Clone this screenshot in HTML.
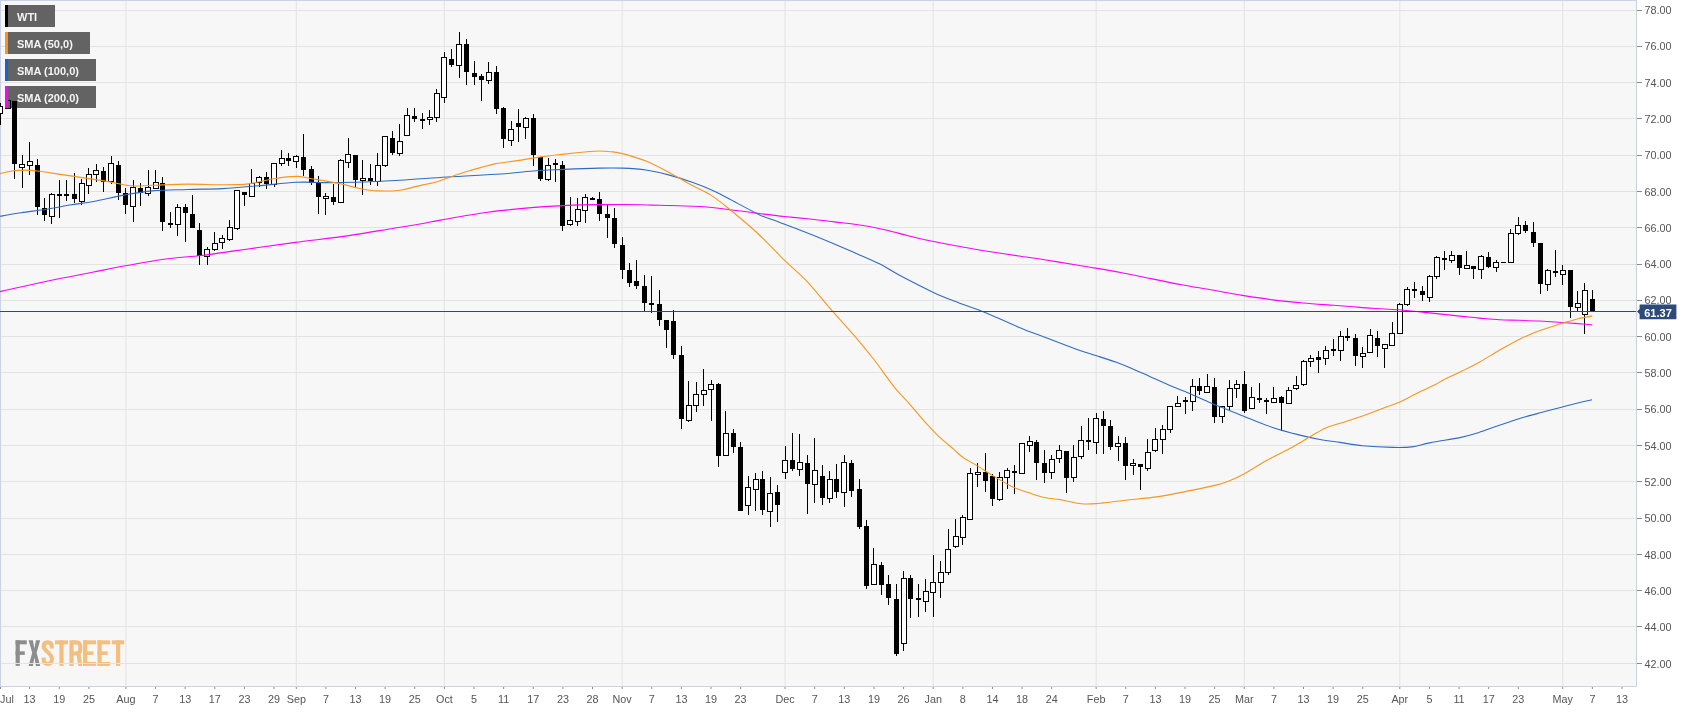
<!DOCTYPE html><html><head><meta charset="utf-8"><style>html,body{margin:0;padding:0;background:#fff;width:1707px;height:712px;overflow:hidden}svg{display:block;will-change:transform}text{font-family:"Liberation Sans",sans-serif}</style></head><body><svg width="1707" height="712" viewBox="0 0 1707 712"><rect x="0" y="0" width="1707" height="712" fill="#ffffff"/><rect x="0" y="0" width="1636" height="686" fill="#f7f7f7"/><g fill="#8d8d8d"><rect x="15.6" y="640.3" width="4.2" height="25.6"/><rect x="15.6" y="640.3" width="11.2" height="4"/><rect x="15.6" y="651.3" width="9.2" height="3.6"/><path d="M28.6,640.3H32.9L34.4,648.5L35.9,640.3H40.2L36.6,652.8L40.2,665.9H35.9L34.4,657.2L32.9,665.9H28.6L32.2,652.8Z"/></g><g fill="#f2bf80"><rect x="55" y="640.3" width="13" height="4"/><rect x="59.4" y="640.3" width="4.2" height="25.6"/><rect x="69.4" y="640.3" width="4.2" height="25.6"/><path d="M76.4,653.5H80.5L82.4,665.9H78.2Z"/><rect x="83.1" y="640.3" width="4.2" height="25.6"/><rect x="83.1" y="640.3" width="13" height="4"/><rect x="83.1" y="651.4" width="10.4" height="3.6"/><rect x="83.1" y="661.9" width="13" height="4"/><rect x="97.5" y="640.3" width="4.2" height="25.6"/><rect x="97.5" y="640.3" width="12.7" height="4"/><rect x="97.5" y="651.4" width="10.2" height="3.6"/><rect x="97.5" y="661.9" width="12.7" height="4"/><rect x="111.9" y="640.3" width="12.3" height="4"/><rect x="116" y="640.3" width="4.2" height="25.6"/></g><g fill="none" stroke="#f2bf80" stroke-width="4.1"><path d="M51.8,648.5V646.6C51.8,643.6 50.5,642.35 47.75,642.35C45,642.35 43.65,643.6 43.65,646.6C43.65,651 51.85,652.8 51.85,658.6V659.6C51.85,662.6 50.5,663.85 47.75,663.85C45,663.85 43.65,662.6 43.65,659.6V657.5"/><path d="M71.5,642.35H76.3C79,642.35 80.3,643.6 80.3,646.6V649.3C80.3,652.3 79,653.5 76.3,653.5H71.5"/></g><path d="M0,10.50H1636 M0,46.50H1636 M0,82.50H1636 M0,118.50H1636 M0,155.50H1636 M0,191.50H1636 M0,227.50H1636 M0,264.50H1636 M0,300.50H1636 M0,336.50H1636 M0,372.50H1636 M0,409.50H1636 M0,445.50H1636 M0,481.50H1636 M0,518.50H1636 M0,554.50H1636 M0,590.50H1636 M0,626.50H1636 M0,663.50H1636 M125.92,0V686 M296.27,0V686 M444.39,0V686 M622.14,0V686 M785.08,0V686 M933.20,0V686 M1096.14,0V686 M1244.26,0V686 M1399.79,0V686 M1562.73,0V686" stroke="#e3e3e3" stroke-width="1" fill="none"/><rect x="5" y="5" width="50" height="22" fill="#636363"/><text x="17" y="20.5" font-size="11" font-weight="bold" fill="#f4f4f4">WTI</text><rect x="5" y="32" width="85" height="22" fill="#636363"/><text x="17" y="47.5" font-size="11" font-weight="bold" fill="#f4f4f4">SMA (50,0)</text><rect x="5" y="59" width="91" height="22" fill="#636363"/><text x="17" y="74.5" font-size="11" font-weight="bold" fill="#f4f4f4">SMA (100,0)</text><rect x="5" y="86" width="91" height="22" fill="#636363"/><text x="17" y="101.5" font-size="11" font-weight="bold" fill="#f4f4f4">SMA (200,0)</text><path d="M0.5,0V686.5M0,0.5H1636.5M1636.5,0V686.5M0,686.5H1636.5" stroke="#cbd2e6" stroke-width="1" fill="none"/><path d="M0.5,103V125 M7.5,99V109 M14.5,101V179 M22.5,155V188 M29.5,142V175 M37.5,159V215 M44.5,198V221 M51.5,193V224 M59.5,180V218 M66.5,180V201 M74.5,173V203 M81.5,179V205 M88.5,168V194 M96.5,164V182 M103.5,167V192 M111.5,156V184 M118.5,161V200 M125.5,188V214 M133.5,180V222 M140.5,183V206 M148.5,170V196 M155.5,170V189 M162.5,177V231 M170.5,212V228 M177.5,204V236 M185.5,204V242 M192.5,195V228 M199.5,223V265 M207.5,247V265 M214.5,232V251 M222.5,235V249 M229.5,220V241 M237.5,190V230 M244.5,192V206 M251.5,169V197 M259.5,176V187 M266.5,172V189 M274.5,163V187 M281.5,150V166 M288.5,153V166 M296.5,155V168 M303.5,134V176 M311.5,166V185 M318.5,176V214 M325.5,193V215 M333.5,184V205 M340.5,159V203 M348.5,138V168 M355.5,155V188 M362.5,160V195 M370.5,164V185 M377.5,153V186 M385.5,136V167 M392.5,131V155 M399.5,124V156 M407.5,108V135 M414.5,108V122 M422.5,113V129 M429.5,110V125 M436.5,89V122 M444.5,52V103 M451.5,49V67 M459.5,32V78 M466.5,39V85 M474.5,61V85 M481.5,74V101 M488.5,62V84 M496.5,66V114 M503.5,107V148 M511.5,121V146 M518.5,109V142 M525.5,117V139 M533.5,114V166 M540.5,157V181 M548.5,158V181 M555.5,159V182 M562.5,161V231 M570.5,197V226 M577.5,198V226 M585.5,194V223 M592.5,197V200 M599.5,192V221 M607.5,204V238 M614.5,208V248 M622.5,237V279 M629.5,263V287 M636.5,260V289 M644.5,275V311 M651.5,276V313 M659.5,290V326 M666.5,320V348 M673.5,310V359 M681.5,346V429 M688.5,381V422 M696.5,382V412 M703.5,369V406 M711.5,380V421 M718.5,383V467 M725.5,411V455 M733.5,429V453 M740.5,442V511 M748.5,476V515 M755.5,473V511 M762.5,471V515 M770.5,477V527 M777.5,485V522 M785.5,446V479 M792.5,433V471 M799.5,434V476 M807.5,455V514 M814.5,438V503 M822.5,465V505 M829.5,471V503 M836.5,464V498 M844.5,455V507 M851.5,460V497 M859.5,479V529 M866.5,520V589 M873.5,548V584 M881.5,562V595 M888.5,575V605 M896.5,584V656 M903.5,571V651 M910.5,575V618 M918.5,584V617 M925.5,579V612 M933.5,555V617 M940.5,561V598 M948.5,529V575 M955.5,519V548 M962.5,515V545 M970.5,468V519 M977.5,463V487 M985.5,453V492 M992.5,474V506 M999.5,472V501 M1007.5,468V489 M1014.5,465V494 M1022.5,443V474 M1029.5,436V452 M1036.5,440V480 M1044.5,450V483 M1051.5,455V479 M1059.5,445V463 M1066.5,451V493 M1073.5,445V482 M1081.5,426V459 M1088.5,418V450 M1096.5,413V454 M1103.5,411V454 M1110.5,420V450 M1118.5,436V461 M1125.5,437V480 M1133.5,459V475 M1140.5,464V490 M1147.5,439V471 M1155.5,428V452 M1162.5,425V454 M1170.5,406V433 M1177.5,396V407 M1185.5,397V414 M1192.5,379V411 M1199.5,378V395 M1207.5,374V393 M1214.5,378V423 M1222.5,406V423 M1229.5,380V410 M1236.5,380V398 M1244.5,371V413 M1251.5,387V408 M1259.5,383V403 M1266.5,398V414 M1273.5,387V403 M1281.5,396V431 M1288.5,387V403 M1296.5,376V390 M1303.5,360V386 M1310.5,355V367 M1318.5,351V373 M1325.5,346V365 M1333.5,339V356 M1340.5,331V361 M1347.5,328V341 M1355.5,334V366 M1362.5,347V368 M1370.5,329V353 M1377.5,331V357 M1384.5,344V368 M1392.5,322V345 M1399.5,303V333 M1407.5,287V306 M1414.5,282V298 M1422.5,286V301 M1429.5,275V302 M1436.5,256V279 M1444.5,251V270 M1451.5,251V263 M1459.5,255V275 M1466.5,251V269 M1473.5,266V279 M1481.5,255V279 M1488.5,252V268 M1496.5,260V272 M1510.5,229V262 M1518.5,217V235 M1525.5,221V233 M1533.5,222V247 M1540.5,243V294 M1547.5,269V291 M1555.5,250V277 M1562.5,265V285 M1570.5,270V318 M1577.5,291V312 M1584.5,283V334 M1592.5,290V312" stroke="#000" stroke-width="1" fill="none"/><g fill="#000"><rect x="12" y="101" width="5" height="63"/><rect x="35" y="165" width="5" height="42"/><rect x="42" y="208" width="5" height="7"/><rect x="57" y="194" width="5" height="2"/><rect x="64" y="194" width="5" height="2"/><rect x="72" y="194" width="5" height="5"/><rect x="101" y="171" width="5" height="11"/><rect x="116" y="165" width="5" height="28"/><rect x="123" y="193" width="5" height="12"/><rect x="138" y="188" width="5" height="5"/><rect x="160" y="183" width="5" height="39"/><rect x="168" y="223" width="5" height="2"/><rect x="183" y="207" width="5" height="6"/><rect x="190" y="214" width="5" height="14"/><rect x="197" y="230" width="5" height="26"/><rect x="242" y="192" width="5" height="3"/><rect x="264" y="177" width="5" height="7"/><rect x="286" y="158" width="5" height="3"/><rect x="301" y="157" width="5" height="13"/><rect x="309" y="169" width="5" height="14"/><rect x="316" y="183" width="5" height="14"/><rect x="331" y="197" width="5" height="5"/><rect x="353" y="155" width="5" height="25"/><rect x="368" y="178" width="5" height="3"/><rect x="390" y="138" width="5" height="15"/><rect x="412" y="116" width="5" height="3"/><rect x="420" y="119" width="5" height="2"/><rect x="449" y="59" width="5" height="6"/><rect x="464" y="44" width="5" height="28"/><rect x="472" y="73" width="5" height="4"/><rect x="479" y="76" width="5" height="4"/><rect x="494" y="72" width="5" height="37"/><rect x="501" y="108" width="5" height="31"/><rect x="516" y="123" width="5" height="4"/><rect x="531" y="118" width="5" height="37"/><rect x="538" y="157" width="5" height="22"/><rect x="553" y="163" width="5" height="2"/><rect x="560" y="165" width="5" height="61"/><rect x="590" y="198" width="5" height="2"/><rect x="597" y="199" width="5" height="15"/><rect x="605" y="214" width="5" height="4"/><rect x="612" y="218" width="5" height="26"/><rect x="620" y="245" width="5" height="25"/><rect x="627" y="270" width="5" height="13"/><rect x="634" y="281" width="5" height="5"/><rect x="642" y="286" width="5" height="17"/><rect x="649" y="303" width="5" height="2"/><rect x="657" y="304" width="5" height="16"/><rect x="664" y="320" width="5" height="10"/><rect x="671" y="321" width="5" height="34"/><rect x="679" y="355" width="5" height="64"/><rect x="716" y="384" width="5" height="72"/><rect x="731" y="433" width="5" height="14"/><rect x="738" y="447" width="5" height="64"/><rect x="760" y="479" width="5" height="31"/><rect x="775" y="492" width="5" height="13"/><rect x="790" y="460" width="5" height="9"/><rect x="805" y="463" width="5" height="21"/><rect x="820" y="476" width="5" height="22"/><rect x="834" y="479" width="5" height="13"/><rect x="849" y="463" width="5" height="28"/><rect x="857" y="489" width="5" height="38"/><rect x="864" y="526" width="5" height="60"/><rect x="879" y="565" width="5" height="20"/><rect x="886" y="584" width="5" height="14"/><rect x="894" y="599" width="5" height="55"/><rect x="908" y="578" width="5" height="21"/><rect x="916" y="598" width="5" height="2"/><rect x="983" y="472" width="5" height="9"/><rect x="990" y="476" width="5" height="23"/><rect x="1012" y="471" width="5" height="2"/><rect x="1034" y="442" width="5" height="21"/><rect x="1042" y="463" width="5" height="10"/><rect x="1064" y="451" width="5" height="27"/><rect x="1086" y="440" width="5" height="2"/><rect x="1101" y="419" width="5" height="7"/><rect x="1108" y="426" width="5" height="21"/><rect x="1123" y="443" width="5" height="23"/><rect x="1138" y="464" width="5" height="3"/><rect x="1183" y="400" width="5" height="2"/><rect x="1197" y="386" width="5" height="5"/><rect x="1212" y="387" width="5" height="30"/><rect x="1242" y="384" width="5" height="27"/><rect x="1257" y="398" width="5" height="2"/><rect x="1264" y="400" width="5" height="2"/><rect x="1279" y="397" width="5" height="6"/><rect x="1316" y="357" width="5" height="3"/><rect x="1331" y="349" width="5" height="2"/><rect x="1345" y="336" width="5" height="2"/><rect x="1353" y="338" width="5" height="18"/><rect x="1375" y="338" width="5" height="8"/><rect x="1412" y="289" width="5" height="2"/><rect x="1420" y="291" width="5" height="4"/><rect x="1442" y="258" width="5" height="2"/><rect x="1457" y="255" width="5" height="13"/><rect x="1471" y="266" width="5" height="3"/><rect x="1486" y="257" width="5" height="10"/><rect x="1501" y="262" width="5" height="1"/><rect x="1523" y="225" width="5" height="6"/><rect x="1531" y="232" width="5" height="11"/><rect x="1538" y="243" width="5" height="41"/><rect x="1553" y="271" width="5" height="2"/><rect x="1568" y="270" width="5" height="37"/><rect x="1590" y="299" width="5" height="12"/></g><g fill="#fff" stroke="#000" stroke-width="1"><rect x="-2.5" y="106.5" width="5" height="7"/><rect fill="none" x="5.5" y="100.5" width="5" height="8"/><rect x="19.5" y="164.5" width="5" height="3"/><rect x="27.5" y="161.5" width="5" height="4"/><rect x="49.5" y="194.5" width="5" height="22"/><rect x="79.5" y="183.5" width="5" height="18"/><rect x="86.5" y="174.5" width="5" height="11"/><rect x="93.5" y="170.5" width="5" height="4"/><rect x="108.5" y="163.5" width="5" height="18"/><rect x="130.5" y="187.5" width="5" height="19"/><rect x="145.5" y="187.5" width="5" height="6"/><rect x="153.5" y="182.5" width="5" height="6"/><rect x="175.5" y="207.5" width="5" height="17"/><rect x="204.5" y="249.5" width="5" height="7"/><rect x="212.5" y="243.5" width="5" height="6"/><rect x="219.5" y="238.5" width="5" height="4"/><rect x="227.5" y="227.5" width="5" height="12"/><rect x="234.5" y="190.5" width="5" height="38"/><rect x="249.5" y="183.5" width="5" height="13"/><rect x="256.5" y="177.5" width="5" height="5"/><rect x="271.5" y="163.5" width="5" height="21"/><rect x="279.5" y="158.5" width="5" height="5"/><rect x="293.5" y="156.5" width="5" height="5"/><rect x="323.5" y="196.5" width="5" height="2"/><rect x="338.5" y="160.5" width="5" height="42"/><rect x="345.5" y="154.5" width="5" height="8"/><rect x="360.5" y="178.5" width="5" height="2"/><rect x="375.5" y="165.5" width="5" height="16"/><rect x="382.5" y="136.5" width="5" height="29"/><rect x="397.5" y="141.5" width="5" height="12"/><rect x="404.5" y="115.5" width="5" height="20"/><rect x="427.5" y="117.5" width="5" height="2"/><rect x="434.5" y="93.5" width="5" height="24"/><rect x="441.5" y="57.5" width="5" height="40"/><rect x="456.5" y="44.5" width="5" height="21"/><rect x="486.5" y="72.5" width="5" height="8"/><rect x="508.5" y="129.5" width="5" height="11"/><rect x="523.5" y="118.5" width="5" height="9"/><rect x="545.5" y="165.5" width="5" height="14"/><rect x="567.5" y="220.5" width="5" height="4"/><rect x="575.5" y="209.5" width="5" height="12"/><rect x="582.5" y="197.5" width="5" height="13"/><rect x="686.5" y="405.5" width="5" height="15"/><rect x="693.5" y="394.5" width="5" height="11"/><rect x="701.5" y="390.5" width="5" height="4"/><rect x="708.5" y="384.5" width="5" height="5"/><rect x="723.5" y="433.5" width="5" height="22"/><rect x="745.5" y="487.5" width="5" height="18"/><rect x="753.5" y="479.5" width="5" height="10"/><rect x="767.5" y="493.5" width="5" height="18"/><rect x="782.5" y="460.5" width="5" height="12"/><rect x="797.5" y="462.5" width="5" height="7"/><rect x="812.5" y="470.5" width="5" height="14"/><rect x="827.5" y="479.5" width="5" height="19"/><rect x="841.5" y="462.5" width="5" height="30"/><rect x="871.5" y="564.5" width="5" height="20"/><rect x="901.5" y="578.5" width="5" height="65"/><rect x="923.5" y="591.5" width="5" height="10"/><rect x="930.5" y="582.5" width="5" height="10"/><rect x="938.5" y="572.5" width="5" height="10"/><rect x="945.5" y="549.5" width="5" height="23"/><rect x="953.5" y="536.5" width="5" height="10"/><rect x="960.5" y="517.5" width="5" height="20"/><rect x="967.5" y="473.5" width="5" height="46"/><rect x="975.5" y="472.5" width="5" height="2"/><rect x="997.5" y="477.5" width="5" height="22"/><rect x="1004.5" y="470.5" width="5" height="7"/><rect x="1019.5" y="443.5" width="5" height="30"/><rect x="1027.5" y="441.5" width="5" height="4"/><rect x="1049.5" y="459.5" width="5" height="13"/><rect x="1056.5" y="450.5" width="5" height="8"/><rect x="1071.5" y="457.5" width="5" height="20"/><rect x="1078.5" y="440.5" width="5" height="16"/><rect x="1093.5" y="418.5" width="5" height="24"/><rect x="1115.5" y="443.5" width="5" height="3"/><rect x="1130.5" y="463.5" width="5" height="2"/><rect x="1145.5" y="452.5" width="5" height="16"/><rect x="1152.5" y="439.5" width="5" height="11"/><rect x="1160.5" y="429.5" width="5" height="10"/><rect x="1167.5" y="406.5" width="5" height="23"/><rect x="1175.5" y="403.5" width="5" height="3"/><rect x="1190.5" y="386.5" width="5" height="15"/><rect x="1204.5" y="386.5" width="5" height="6"/><rect x="1219.5" y="406.5" width="5" height="10"/><rect x="1227.5" y="388.5" width="5" height="18"/><rect x="1234.5" y="384.5" width="5" height="4"/><rect x="1249.5" y="397.5" width="5" height="11"/><rect x="1271.5" y="398.5" width="5" height="4"/><rect x="1286.5" y="390.5" width="5" height="13"/><rect x="1293.5" y="385.5" width="5" height="3"/><rect x="1301.5" y="361.5" width="5" height="23"/><rect x="1308.5" y="358.5" width="5" height="3"/><rect x="1323.5" y="350.5" width="5" height="8"/><rect x="1338.5" y="336.5" width="5" height="14"/><rect x="1360.5" y="353.5" width="5" height="3"/><rect x="1367.5" y="335.5" width="5" height="17"/><rect x="1382.5" y="344.5" width="5" height="4"/><rect x="1389.5" y="333.5" width="5" height="12"/><rect x="1397.5" y="304.5" width="5" height="29"/><rect x="1404.5" y="289.5" width="5" height="15"/><rect x="1427.5" y="276.5" width="5" height="21"/><rect x="1434.5" y="257.5" width="5" height="19"/><rect x="1449.5" y="255.5" width="5" height="5"/><rect x="1464.5" y="265.5" width="5" height="3"/><rect x="1478.5" y="256.5" width="5" height="13"/><rect x="1493.5" y="262.5" width="5" height="5"/><rect x="1508.5" y="233.5" width="5" height="29"/><rect x="1515.5" y="225.5" width="5" height="8"/><rect x="1545.5" y="270.5" width="5" height="14"/><rect x="1560.5" y="270.5" width="5" height="4"/><rect x="1575.5" y="303.5" width="5" height="4"/><rect x="1582.5" y="290.5" width="5" height="24"/></g><path d="M0.0,291.6 C7.8,289.9 31.3,284.5 46.9,281.2 C62.5,277.9 80.6,274.6 93.7,272.0 C106.8,269.4 113.8,267.9 125.5,265.8 C137.2,263.7 151.3,260.9 164.0,259.2 C176.7,257.5 190.1,256.9 201.8,255.5 C213.5,254.1 224.6,252.3 234.3,250.9 C244.0,249.5 249.8,248.7 260.0,247.3 C270.2,245.9 280.6,244.4 295.4,242.4 C310.2,240.4 332.6,238.0 349.0,235.6 C365.4,233.2 381.9,230.1 393.7,228.2 C405.5,226.3 412.2,225.3 420.0,224.0 C427.8,222.7 429.4,222.1 440.6,220.1 C451.9,218.1 471.9,214.3 487.5,212.2 C503.1,210.1 522.6,208.4 534.3,207.4 C546.0,206.4 550.0,206.3 557.8,205.9 C565.6,205.5 570.4,205.1 581.2,204.9 C592.0,204.7 610.7,204.5 622.4,204.5 C634.1,204.5 638.6,204.8 651.5,205.1 C664.4,205.4 687.2,205.8 700.0,206.5 C712.8,207.2 718.7,208.4 728.1,209.5 C737.5,210.6 746.8,211.9 756.2,213.1 C765.6,214.3 774.9,215.5 784.3,216.5 C793.7,217.5 803.7,218.4 812.4,219.3 C821.1,220.2 829.7,221.3 836.4,222.1 C843.1,222.9 847.3,223.3 852.8,224.0 C858.3,224.7 863.7,225.5 869.2,226.5 C874.7,227.5 880.1,228.7 885.6,230.0 C891.1,231.3 896.5,232.7 902.0,234.1 C907.5,235.5 913.1,237.0 918.4,238.2 C923.7,239.4 926.2,240.0 933.6,241.5 C941.0,243.0 953.0,245.3 962.5,247.0 C972.0,248.7 981.2,250.2 990.6,251.7 C1000.0,253.2 1009.2,254.6 1018.7,256.0 C1028.2,257.4 1038.1,258.7 1047.5,260.2 C1056.9,261.7 1067.9,263.6 1075.0,264.8 C1082.1,266.0 1082.4,265.9 1090.0,267.2 C1097.6,268.5 1110.3,270.6 1120.5,272.5 C1130.7,274.4 1140.8,276.6 1150.9,278.6 C1161.1,280.6 1171.2,282.8 1181.4,284.7 C1191.6,286.6 1201.8,288.2 1211.9,290.0 C1222.1,291.8 1232.2,293.8 1242.3,295.4 C1252.4,297.0 1262.6,298.6 1272.8,299.9 C1283.0,301.2 1293.0,302.1 1303.2,303.0 C1313.4,303.9 1325.9,304.7 1333.7,305.3 C1341.5,305.9 1343.5,306.0 1350.0,306.5 C1356.5,307.0 1364.6,307.8 1372.7,308.3 C1380.8,308.9 1389.7,309.1 1398.8,309.8 C1407.9,310.5 1416.9,311.6 1427.1,312.6 C1437.3,313.7 1451.2,315.2 1460.0,316.1 C1468.8,317.0 1473.2,317.5 1479.7,318.1 C1486.2,318.7 1492.8,319.4 1499.3,319.8 C1505.8,320.2 1512.4,320.1 1519.0,320.3 C1525.6,320.5 1532.2,320.7 1538.7,321.0 C1545.2,321.3 1551.8,321.9 1558.3,322.3 C1564.8,322.7 1572.3,323.2 1578.0,323.6 C1583.7,324.0 1589.8,324.7 1592.2,324.9" stroke="#ff00ff" stroke-width="1.1" fill="none"/><path d="M0.0,216.3 C3.5,215.7 13.3,214.0 21.1,212.8 C28.9,211.6 38.8,210.5 46.9,209.2 C55.0,207.9 62.2,206.3 70.0,205.0 C77.8,203.7 84.7,203.2 93.7,201.5 C102.7,199.8 114.4,196.9 124.2,195.1 C134.0,193.3 141.8,191.8 152.3,190.9 C162.9,190.0 175.8,189.9 187.5,189.5 C199.2,189.1 210.9,189.2 222.6,188.6 C234.3,188.0 245.5,186.9 257.8,185.8 C270.1,184.8 284.7,182.8 296.4,182.3 C308.1,181.8 317.0,182.7 328.1,182.6 C339.2,182.5 351.2,182.4 363.2,182.0 C375.2,181.6 386.1,181.1 400.0,180.3 C413.9,179.5 430.1,178.1 446.9,177.0 C463.7,175.9 486.0,175.0 500.8,174.0 C515.6,173.0 525.4,171.6 535.9,170.8 C546.4,170.0 553.5,169.9 564.0,169.4 C574.5,168.9 589.4,168.3 599.2,168.1 C609.0,167.9 614.8,167.8 622.6,168.1 C630.4,168.4 638.2,168.8 646.0,170.0 C653.8,171.2 661.7,173.0 669.5,175.1 C677.3,177.2 686.0,180.1 692.9,182.6 C699.8,185.1 705.1,187.2 711.0,189.8 C716.9,192.4 720.0,194.1 728.1,198.3 C736.2,202.5 751.2,210.9 759.7,214.9 C768.2,218.9 769.5,218.4 779.3,222.2 C789.1,226.0 805.6,232.2 818.7,237.5 C831.8,242.8 847.8,249.8 858.0,254.2 C868.2,258.6 873.0,260.6 880.0,264.1 C887.0,267.7 891.1,270.8 900.0,275.5 C908.9,280.2 923.6,287.8 933.4,292.4 C943.2,297.0 950.8,299.7 959.0,302.9 C967.2,306.1 972.8,307.5 982.6,311.5 C992.4,315.5 1007.2,322.4 1018.0,326.9 C1028.8,331.4 1037.7,334.5 1047.5,338.3 C1057.3,342.1 1068.8,346.6 1077.0,349.5 C1085.2,352.4 1090.2,353.7 1096.7,355.8 C1103.2,357.9 1110.8,360.3 1116.3,362.3 C1121.8,364.3 1124.4,365.3 1130.0,367.7 C1135.6,370.1 1143.2,373.6 1149.7,376.5 C1156.2,379.4 1162.8,382.4 1169.3,385.2 C1175.8,388.0 1182.5,390.4 1189.0,393.2 C1195.5,396.0 1202.0,399.1 1208.6,401.9 C1215.1,404.7 1221.4,407.2 1228.3,410.0 C1235.2,412.8 1242.5,415.9 1250.0,418.8 C1257.5,421.8 1265.3,425.1 1273.3,427.7 C1281.3,430.3 1290.1,432.6 1297.9,434.6 C1305.7,436.6 1313.0,438.2 1320.0,439.5 C1327.0,440.8 1332.9,441.4 1340.0,442.4 C1347.1,443.4 1353.7,444.9 1362.5,445.7 C1371.3,446.5 1384.6,447.2 1392.8,447.4 C1401.0,447.6 1405.7,447.6 1411.9,446.9 C1418.1,446.1 1421.9,444.4 1429.9,442.9 C1437.9,441.3 1452.2,439.2 1460.0,437.6 C1467.8,436.0 1470.9,435.0 1476.4,433.3 C1481.9,431.6 1487.3,429.4 1492.8,427.5 C1498.3,425.6 1503.7,423.8 1509.2,422.0 C1514.7,420.2 1520.1,418.4 1525.6,416.8 C1531.1,415.2 1536.5,413.8 1542.0,412.3 C1547.5,410.8 1552.9,409.4 1558.4,408.0 C1563.9,406.6 1569.2,405.1 1574.8,403.7 C1580.4,402.3 1589.2,400.4 1592.1,399.8" stroke="#2f6bc4" stroke-width="1.1" fill="none"/><path d="M0.0,173.6 C1.9,173.2 7.4,171.6 11.7,171.0 C16.0,170.4 21.5,170.1 25.8,170.1 C30.1,170.1 32.0,170.3 37.5,171.0 C43.0,171.7 51.2,173.0 58.6,174.1 C66.0,175.2 74.2,176.4 82.0,177.6 C89.8,178.8 97.2,179.7 105.4,181.1 C113.6,182.5 123.4,185.1 131.2,185.8 C139.0,186.5 142.9,185.6 152.3,185.3 C161.7,185.0 175.8,184.2 187.5,184.1 C199.2,184.0 212.4,184.8 222.6,184.8 C232.8,184.8 239.8,184.9 248.4,183.9 C257.0,182.9 266.2,179.9 274.2,178.7 C282.2,177.4 290.1,176.4 296.4,176.4 C302.6,176.4 304.5,177.5 311.7,178.7 C318.9,179.9 332.0,182.0 339.8,183.6 C347.6,185.2 352.4,187.1 358.6,188.3 C364.9,189.5 370.4,190.6 377.3,190.9 C384.2,191.2 393.3,191.0 400.0,190.2 C406.7,189.4 411.8,187.4 417.6,186.1 C423.5,184.8 430.2,183.5 435.1,182.2 C440.0,180.9 441.0,180.1 446.9,178.2 C452.8,176.2 462.5,172.8 470.3,170.5 C478.1,168.2 485.9,165.8 493.7,164.1 C501.5,162.4 509.4,161.8 517.2,160.6 C525.0,159.4 532.8,158.0 540.6,156.9 C548.4,155.8 556.2,155.0 564.0,154.1 C571.8,153.2 581.6,152.2 587.5,151.7 C593.4,151.2 595.3,151.0 599.2,151.0 C603.1,151.0 607.0,151.3 610.9,151.7 C614.8,152.1 616.8,152.0 622.6,153.6 C628.5,155.2 638.2,157.9 646.0,161.1 C653.8,164.3 661.7,168.7 669.5,172.8 C677.3,176.9 685.9,181.9 692.9,185.7 C699.9,189.5 705.3,191.7 711.2,195.4 C717.1,199.1 720.6,202.0 728.1,208.1 C735.6,214.2 746.8,223.3 756.2,232.0 C765.6,240.7 775.9,251.9 784.3,260.1 C792.7,268.3 798.8,272.7 806.7,281.1 C814.7,289.5 824.0,301.5 832.0,310.6 C840.0,319.7 847.6,327.8 854.5,335.9 C861.4,344.0 868.8,353.1 873.5,359.0 C878.2,364.9 878.8,366.2 882.5,371.2 C886.2,376.2 891.5,383.8 896.0,389.2 C900.5,394.6 904.9,398.7 909.4,403.8 C913.9,408.9 918.0,414.2 922.9,419.6 C927.8,425.0 933.5,431.3 938.7,436.4 C944.0,441.4 950.3,446.3 954.4,449.9 C958.5,453.5 959.6,455.2 963.4,457.8 C967.1,460.4 971.7,462.4 976.9,465.6 C982.1,468.8 988.8,473.3 994.8,476.9 C1000.8,480.5 1007.2,484.4 1012.8,487.0 C1018.4,489.6 1023.2,490.9 1028.5,492.6 C1033.8,494.4 1039.0,496.3 1044.3,497.5 C1049.5,498.7 1053.8,498.6 1060.0,499.6 C1066.2,500.7 1075.0,503.2 1081.3,503.8 C1087.6,504.4 1090.3,504.1 1097.7,503.5 C1105.1,502.9 1115.5,501.3 1125.6,500.2 C1135.7,499.1 1147.5,498.2 1158.4,496.6 C1169.3,495.0 1181.6,492.3 1191.2,490.4 C1200.8,488.5 1209.5,486.7 1215.8,485.1 C1222.1,483.5 1224.1,482.9 1229.0,480.9 C1233.9,478.9 1239.4,476.5 1245.4,473.2 C1251.4,469.9 1257.7,465.3 1265.1,461.2 C1272.5,457.1 1282.0,452.7 1289.7,448.5 C1297.4,444.3 1305.0,439.6 1311.0,436.2 C1317.0,432.8 1320.9,430.1 1325.7,428.0 C1330.5,425.9 1333.9,425.3 1340.0,423.3 C1346.1,421.3 1355.0,418.6 1362.5,416.0 C1370.0,413.4 1378.7,409.9 1384.9,407.5 C1391.2,405.1 1394.4,404.4 1400.0,401.9 C1405.6,399.4 1412.8,395.3 1418.7,392.4 C1424.6,389.5 1431.5,386.5 1435.5,384.5 C1439.5,382.5 1438.9,382.3 1443.0,380.2 C1447.1,378.1 1453.9,375.2 1460.0,372.1 C1466.1,369.1 1473.2,365.5 1479.7,361.9 C1486.2,358.3 1492.8,354.0 1499.3,350.3 C1505.8,346.6 1514.1,342.0 1519.0,339.5 C1523.9,337.0 1525.5,336.5 1528.8,335.1 C1532.1,333.7 1533.8,332.9 1538.7,331.1 C1543.6,329.4 1553.4,326.2 1558.3,324.6 C1563.2,323.0 1564.8,322.6 1568.1,321.6 C1571.4,320.6 1574.0,319.8 1578.0,318.8 C1582.0,317.9 1589.8,316.4 1592.2,315.9" stroke="#f7961e" stroke-width="1.1" fill="none"/><path d="M0,311.5H1636" stroke="#2c4a7a" stroke-width="1.2"/><rect x="5" y="5" width="3" height="22" fill="#000"/><rect x="5" y="32" width="3" height="22" fill="#f7961e"/><rect x="5" y="59" width="3" height="22" fill="#1f5fc9"/><rect x="5" y="86" width="3" height="22" fill="#ff00ff"/><path d="M1637,10.50h5 M1637,46.50h5 M1637,82.50h5 M1637,118.50h5 M1637,155.50h5 M1637,191.50h5 M1637,227.50h5 M1637,264.50h5 M1637,300.50h5 M1637,336.50h5 M1637,372.50h5 M1637,409.50h5 M1637,445.50h5 M1637,481.50h5 M1637,518.50h5 M1637,554.50h5 M1637,590.50h5 M1637,626.50h5 M1637,663.50h5" stroke="#8a8a8a" stroke-width="1"/><g font-size="10.8" fill="#555"><text x="1644.5" y="13.9">78.00</text><text x="1644.5" y="50.2">76.00</text><text x="1644.5" y="86.5">74.00</text><text x="1644.5" y="122.8">72.00</text><text x="1644.5" y="159.1">70.00</text><text x="1644.5" y="195.5">68.00</text><text x="1644.5" y="231.8">66.00</text><text x="1644.5" y="268.1">64.00</text><text x="1644.5" y="304.4">62.00</text><text x="1644.5" y="340.7">60.00</text><text x="1644.5" y="377.0">58.00</text><text x="1644.5" y="413.3">56.00</text><text x="1644.5" y="449.6">54.00</text><text x="1644.5" y="485.9">52.00</text><text x="1644.5" y="522.2">50.00</text><text x="1644.5" y="558.6">48.00</text><text x="1644.5" y="594.9">46.00</text><text x="1644.5" y="631.2">44.00</text><text x="1644.5" y="667.5">42.00</text></g><path d="M1637,311.5L1639.6,309V304.4H1676.4V319.3H1639.6V314Z" fill="#2c4a7a"/><text x="1658" y="316.6" font-size="11" font-weight="bold" fill="#fff" text-anchor="middle">61.37</text><path d="M29.64,687v2 M59.27,687v2 M88.89,687v2 M125.92,687v2 M155.55,687v2 M185.17,687v2 M214.80,687v2 M244.42,687v2 M274.05,687v2 M296.27,687v2 M325.89,687v2 M355.51,687v2 M385.14,687v2 M414.76,687v2 M444.39,687v2 M474.01,687v2 M503.64,687v2 M533.26,687v2 M562.89,687v2 M592.51,687v2 M622.14,687v2 M651.76,687v2 M681.39,687v2 M711.01,687v2 M740.64,687v2 M785.08,687v2 M814.70,687v2 M844.33,687v2 M873.95,687v2 M903.58,687v2 M933.20,687v2 M962.83,687v2 M992.45,687v2 M1022.08,687v2 M1051.70,687v2 M1096.14,687v2 M1125.76,687v2 M1155.39,687v2 M1185.01,687v2 M1214.64,687v2 M1244.26,687v2 M1273.89,687v2 M1303.51,687v2 M1333.14,687v2 M1362.76,687v2 M1399.79,687v2 M1429.42,687v2 M1459.04,687v2 M1488.67,687v2 M1518.29,687v2 M1562.73,687v2 M1592.36,687v2 M1621.98,687v2 M0.5,687v2" stroke="#8a8a8a" stroke-width="1"/><g font-size="10.8" fill="#555" text-anchor="middle"><text x="29.6" y="703">13</text><text x="59.3" y="703">19</text><text x="88.9" y="703">25</text><text x="125.9" y="703">Aug</text><text x="155.5" y="703">7</text><text x="185.2" y="703">13</text><text x="214.8" y="703">17</text><text x="244.4" y="703">23</text><text x="274.0" y="703">29</text><text x="296.3" y="703">Sep</text><text x="325.9" y="703">7</text><text x="355.5" y="703">13</text><text x="385.1" y="703">19</text><text x="414.8" y="703">25</text><text x="444.4" y="703">Oct</text><text x="474.0" y="703">5</text><text x="503.6" y="703">11</text><text x="533.3" y="703">17</text><text x="562.9" y="703">23</text><text x="592.5" y="703">28</text><text x="622.1" y="703">Nov</text><text x="651.8" y="703">7</text><text x="681.4" y="703">13</text><text x="711.0" y="703">19</text><text x="740.6" y="703">23</text><text x="785.1" y="703">Dec</text><text x="814.7" y="703">7</text><text x="844.3" y="703">13</text><text x="874.0" y="703">19</text><text x="903.6" y="703">26</text><text x="933.2" y="703">Jan</text><text x="962.8" y="703">8</text><text x="992.5" y="703">14</text><text x="1022.1" y="703">18</text><text x="1051.7" y="703">24</text><text x="1096.1" y="703">Feb</text><text x="1125.8" y="703">7</text><text x="1155.4" y="703">13</text><text x="1185.0" y="703">19</text><text x="1214.6" y="703">25</text><text x="1244.3" y="703">Mar</text><text x="1273.9" y="703">7</text><text x="1303.5" y="703">13</text><text x="1333.1" y="703">19</text><text x="1362.8" y="703">25</text><text x="1399.8" y="703">Apr</text><text x="1429.4" y="703">5</text><text x="1459.0" y="703">11</text><text x="1488.7" y="703">17</text><text x="1518.3" y="703">23</text><text x="1562.7" y="703">May</text><text x="1592.4" y="703">7</text><text x="1622.0" y="703">13</text></g><text x="0" y="703" font-size="10.8" fill="#555">Jul</text></svg></body></html>
